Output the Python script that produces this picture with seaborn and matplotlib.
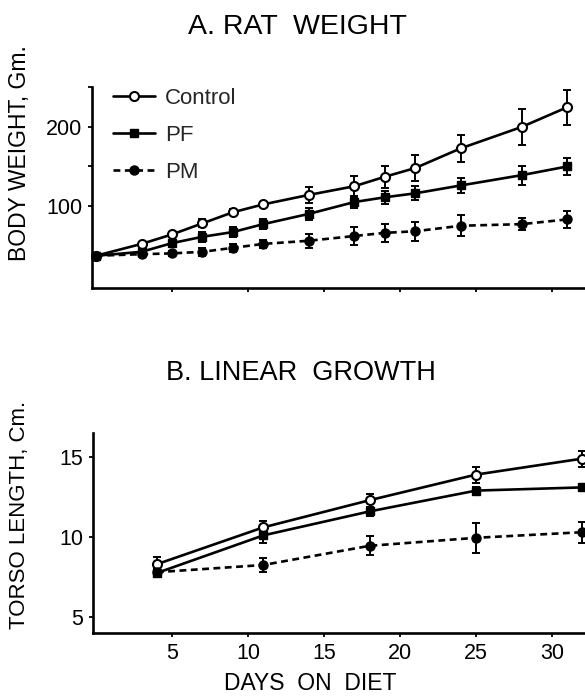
import matplotlib
matplotlib.use("Agg")
import numpy as np
import pandas as pd
import seaborn as sns
import matplotlib.pyplot as plt
from matplotlib.ticker import FixedLocator

# ---------------- data ----------------
days_w = [0, 3, 5, 7, 9, 11, 14, 17, 19, 21, 24, 28, 31]
ctrl_w = [37, 52, 64, 78, 92, 102, 114, 125, 137, 148, 173, 200, 225]
ctrl_w_err = [2, 3, 3, 5, 4, 3, 10, 13, 14, 17, 17, 23, 22]
pf_w = [37, 42, 53, 61, 67, 77, 90, 105, 111, 116, 126, 139, 150]
pf_w_err = [2, 3, 4, 6, 6, 6, 8, 8, 8, 9, 10, 12, 11]
pm_w = [37, 39, 40, 42, 47, 52, 56, 62, 66, 68, 75, 77, 83]
pm_w_err = [2, 3, 3, 5, 5, 5, 9, 11, 11, 12, 13, 8, 11]

days_l = [4, 11, 18, 25, 32]
ctrl_l = [8.3, 10.6, 12.3, 13.9, 14.9]
ctrl_l_err = [0.45, 0.4, 0.4, 0.5, 0.5]
pf_l = [7.75, 10.1, 11.6, 12.9, 13.1]
pf_l_err = [0.25, 0.5, 0.3, 0.2, 0.2]
pm_l = [7.8, 8.25, 9.45, 9.95, 10.3]
pm_l_err = [0.25, 0.45, 0.6, 0.95, 0.65]

groups = ["Control", "PF", "PM"]
weight_ticks = [100, 200]
weight_minor = [150, 250]
length_ticks = [5, 10, 15]
day_ticks = [5, 10, 15, 20, 25, 30]

sns.set_theme(style="ticks")
plt.rcParams["font.family"] = ["Liberation Sans", "DejaVu Sans"]

fig = plt.figure(figsize=(5.85, 6.98), dpi=100)
W, H = 585, 698


def axes_px(left, top, right, bottom):
    return fig.add_axes([left / W, 1 - bottom / H, (right - left) / W, (bottom - top) / H])


ax1 = axes_px(92, 87, 585, 288)
ax2 = axes_px(93, 433, 585, 633)

styles = {
    "Control": dict(marker="o", markerfacecolor="white", markeredgecolor="black",
                    markersize=6.5, markeredgewidth=1.5, linestyle="-"),
    "PF": dict(marker="s", markerfacecolor="black", markeredgecolor="black",
               markersize=6, markeredgewidth=1, linestyle="-"),
    "PM": dict(marker="o", markerfacecolor="black", markeredgecolor="black",
               markersize=6.5, markeredgewidth=1, linestyle=(0, (2.6, 1.7))),
}

lw = 1.9


def draw(ax, days, series, errs, legend):
    for g, vals, err in zip(groups, series, errs):
        df = pd.DataFrame({"day": days, "value": vals})
        ax.errorbar(days, vals, yerr=err, fmt="none", ecolor="black",
                    elinewidth=1.4, capsize=2.6, capthick=1.4, zorder=2, clip_on=False)
        sns.lineplot(data=df, x="day", y="value", ax=ax, color="black", linewidth=lw,
                     label=g if legend else None, legend=False, zorder=3,
                     clip_on=False, **styles[g])


draw(ax1, days_w, [ctrl_w, pf_w, pm_w], [ctrl_w_err, pf_w_err, pm_w_err], True)
draw(ax2, days_l, [ctrl_l, pf_l, pm_l], [ctrl_l_err, pf_l_err, pm_l_err], False)

ax1.set_xlim(-0.26, 32.17)
ax1.set_ylim(-3.8, 250.6)
ax2.set_xlim(-0.2, 32.17)
ax2.set_ylim(4.0, 16.5)

for ax in (ax1, ax2):
    sns.despine(ax=ax)
    for s in ("left", "bottom"):
        ax.spines[s].set_linewidth(1.9)
        ax.spines[s].set_color("black")
    ax.set_xlabel("")
    ax.set_ylabel("")
    ax.set_xticks(day_ticks)
    ax.tick_params(axis="both", which="major", length=3, width=1.3, color="black",
                   labelsize=15.5, pad=4, labelcolor="black")
    ax.set_facecolor("white")

ax1.set_yticks(weight_ticks)
ax1.yaxis.set_minor_locator(FixedLocator(weight_minor))
ax1.tick_params(axis="y", which="minor", length=3, width=1.3, color="black")
ax1.set_xticklabels([])
ax2.set_yticks(length_ticks)
ax2.set_xticklabels([str(d) for d in day_ticks])

leg = ax1.legend(loc="upper left", bbox_to_anchor=(0.042, 0.995), frameon=False,
                 fontsize=16, handlelength=1.9, handletextpad=0.45, labelspacing=0.72,
                 borderpad=0, borderaxespad=0, numpoints=1)

fig.text(297 / W, 1 - 27 / H, "A. RAT  WEIGHT", ha="center", va="center",
         fontsize=20.5, color="black")
fig.text(301 / W, 1 - 373 / H, "B. LINEAR  GROWTH", ha="center", va="center",
         fontsize=19.5, color="black")
fig.text(310 / W, 1 - 695 / H, "DAYS  ON  DIET", ha="center", va="bottom",
         fontsize=16.5, color="black")
fig.text(20 / W, 1 - 153 / H, "BODY WEIGHT, Gm.", ha="center", va="center",
         rotation=90, fontsize=16.5, color="black")
fig.text(20 / W, 1 - 515 / H, "TORSO LENGTH, Cm.", ha="center", va="center",
         rotation=90, fontsize=16, color="black")

fig.savefig("out.png", dpi=100, facecolor="white")
